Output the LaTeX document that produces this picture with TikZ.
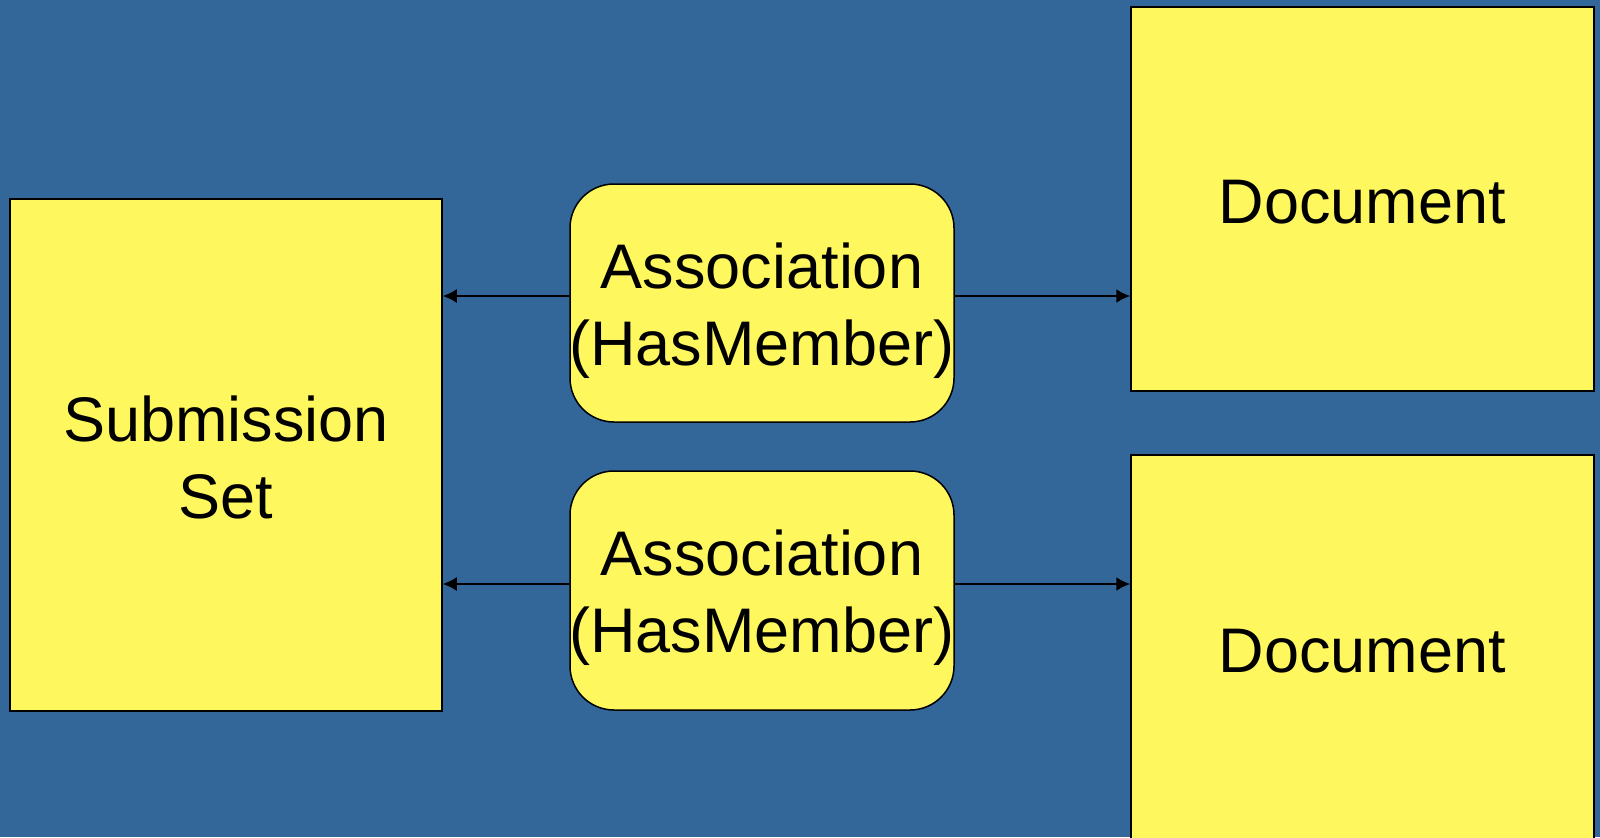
\documentclass[tikz,border=0pt]{standalone}
\usepackage{fontspec}
\setmainfont{Liberation Sans}
\usetikzlibrary{arrows.meta}
\definecolor{bg}{RGB}{51,102,153}
\definecolor{boxy}{RGB}{255,247,94}
\begin{document}
\begin{tikzpicture}[x=0.5pt,y=-0.5pt,
  box/.style={draw=black,line width=0.75pt,fill=boxy,inner sep=0pt},
  assoc/.style={box,rounded corners=22pt},
  txt/.style={inner sep=0pt,align=center,font=\fontsize{31.5}{38.3}\selectfont},
  arr/.style={line width=1pt,-{Latex[length=7pt,width=7pt]}}]
\fill[bg] (0,0) rectangle (1600,837);
\useasboundingbox (0,0) rectangle (1600,837);
\clip (0,0) rectangle (1600,837);
\node[box,minimum width=216pt,minimum height=256pt] (ss) at (226,455) {};
\node[assoc,minimum width=192pt,minimum height=119pt] (a1) at (762,303) {};
\node[assoc,minimum width=192pt,minimum height=119.5pt] (a2) at (762,590.5) {};
\node[box,minimum width=231.5pt,minimum height=192pt] (d1) at (1362.5,199) {};
\node[box,minimum width=231.5pt,minimum height=195pt] (d2) at (1362.5,650) {};
\node[txt] (sst) at ([yshift=-1.3pt]ss.center) {Submission\\Set};
\node[txt] (a1t) at ([yshift=-3.7pt]a1.center) {Association\\(HasMember)};
\node[txt] (a2t) at ([yshift=-3.7pt]a2.center) {Association\\(HasMember)};
\node[txt] (d1t) at ([yshift=-1.5pt]d1.center) {Document};
\node[txt] (d2t) at ([yshift=-0.5pt]d2.center) {Document};
\coordinate (p1) at ([yshift=3.5pt]a1.west);
\coordinate (q1) at ([yshift=3.5pt]a1.east);
\coordinate (p2) at ([yshift=3.25pt]a2.west);
\coordinate (q2) at ([yshift=3.25pt]a2.east);
\draw[arr] (p1) -- (p1 -| ss.east);
\draw[arr] (q1) -- (q1 -| d1.west);
\draw[arr] (p2) -- (p2 -| ss.east);
\draw[arr] (q2) -- (q2 -| d2.west);
\end{tikzpicture}
\end{document}
